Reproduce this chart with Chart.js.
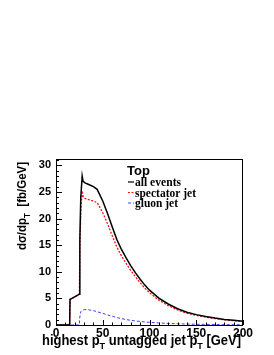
<!DOCTYPE html>
<html><head><meta charset="utf-8">
<script src="https://cdn.jsdelivr.net/npm/chart.js@4/dist/chart.umd.min.js"></script>
<style>html,body{margin:0;padding:0;background:#fff;}#wrap{width:274px;height:355px;}</style>
</head><body><div id="wrap"><canvas id="c" width="274" height="355"></canvas></div>
<script>
const ptBins = [0, 14.6, 15, 20, 25, 25.5, 26.5, 28, 29, 31, 35, 40, 44, 50, 55, 60, 65, 70, 75, 80, 85, 90, 95, 100, 110, 120, 130, 140, 150, 160, 170, 180, 190, 200];
const allEvents = [0, 0, 4.8, 5.3, 5.8, 16, 24, 28, 27, 26.7, 26.4, 26.0, 25.5, 23.3, 21.0, 18.5, 16.1, 14.2, 12.6, 11.1, 9.8, 8.6, 7.5, 6.55, 5.05, 3.95, 3.05, 2.4, 1.95, 1.6, 1.3, 1.05, 0.88, 0.72];
const spectatorJet = [0, 0, 4.8, 5.3, 5.8, 14.5, 21.5, 25.2, 24.15, 23.8, 23.55, 23.3, 23.0, 21.1, 19.1, 16.85, 14.7, 13.0, 11.58, 10.22, 9.04, 7.94, 6.92, 6.05, 4.67, 3.65, 2.82, 2.22, 1.81, 1.49, 1.21, 0.98, 0.82, 0.67];
const gluonJet = [0, 0, 0, 0, 0, 1.5, 2.5, 2.8, 2.85, 2.9, 2.85, 2.7, 2.5, 2.2, 1.9, 1.65, 1.4, 1.2, 1.02, 0.88, 0.76, 0.66, 0.58, 0.5, 0.38, 0.3, 0.23, 0.18, 0.14, 0.11, 0.09, 0.07, 0.06, 0.05];
const xTickValues = [0, 50, 100, 150, 200];
const yTickValues = [0, 5, 10, 15, 20, 25, 30];
const legendTitle = "Top";
const seriesNames = ["all events", "spectator jet", "gluon jet"];

const SANS = '"Liberation Sans", Arial, sans-serif';
const SERIF = '"Liberation Serif", "Times New Roman", serif';

function pts(ys){ return ptBins.map((x,i)=>({x:x, y:ys[i]})); }

function drawRich(ctx, segs, x, y, f, targetW){
  let w = 0;
  for(const [t,sub] of segs){ ctx.font = 'bold '+(sub?f*0.7:f)+'px '+SANS; w += ctx.measureText(t).width; }
  const sx = targetW ? targetW / w : 1;
  ctx.save();
  ctx.translate(x, y);
  ctx.scale(sx, 1);
  let cx = 0;
  for(const [t,sub] of segs){
    ctx.font = 'bold '+(sub?f*0.7:f)+'px '+SANS;
    ctx.fillText(t, cx, sub ? f*0.3 : 0);
    cx += ctx.measureText(t).width;
  }
  ctx.restore();
}

const decor = {
  id:'decor',
  afterDraw(chart){
    const ctx = chart.ctx, a = chart.chartArea;
    const xs = chart.scales.x, ys = chart.scales.y;
    ctx.save();
    ctx.strokeStyle = '#000'; ctx.lineWidth = 1;
    ctx.strokeRect(Math.round(a.left)+0.5, Math.round(a.top)+0.5, Math.round(a.right-a.left)-1, Math.round(a.bottom-a.top));
    ctx.beginPath();
    for(let v=0; v<=200; v+=10){
      const px = Math.round(xs.getPixelForValue(v))+0.5;
      const len = (v%50===0)?5:2.5;
      ctx.moveTo(px, a.bottom); ctx.lineTo(px, a.bottom-len);
    }
    for(let v=0; v<=31; v+=1){
      const py = Math.round(ys.getPixelForValue(v))+0.5;
      const len = (v%5===0)?6:3;
      ctx.moveTo(a.left, py); ctx.lineTo(a.left+len, py);
    }
    ctx.stroke();
    ctx.fillStyle = '#000';
    ctx.textBaseline = 'alphabetic';
    drawRich(ctx, [['highest p',false],['T',true],[' untagged jet p',false],['T',true],[' [GeV]',false]], 42, 345, 14, 199);
    ctx.save();
    ctx.translate(26, 250);
    ctx.rotate(-Math.PI/2);
    drawRich(ctx, [['d\u03C3/dp',false],['T',true],['  [fb/GeV]',false]], 0, 0, 13, 88);
    ctx.restore();
    ctx.font = 'bold 13px '+SANS;
    ctx.fillText(legendTitle, 127, 175);
    const ds = chart.data.datasets;
    const ly = [186, 196.5, 207];
    const lw = [46, 61, 43];
    for(let i=0;i<3;i++){
      ctx.save();
      ctx.strokeStyle = ds[i].borderColor; ctx.lineWidth = 1.2;
      ctx.setLineDash(ds[i].borderDash || []);
      ctx.beginPath(); ctx.moveTo(128, ly[i]-4); ctx.lineTo(134, ly[i]-4); ctx.stroke();
      ctx.restore();
      ctx.font = 'bold 12px '+SERIF;
      const w = ctx.measureText(seriesNames[i]).width;
      ctx.save();
      ctx.translate(135, ly[i]);
      ctx.scale(lw[i]/w, 1);
      ctx.fillText(seriesNames[i], 0, 0);
      ctx.restore();
    }
    ctx.restore();
  }
};

new Chart(document.getElementById('c'), {
  type:'line',
  data:{ datasets:[
    {label:seriesNames[0], data:pts(allEvents), borderColor:'#000000', borderWidth:1.5, pointRadius:0, tension:0, fill:false},
    {label:seriesNames[1], data:pts(spectatorJet), borderColor:'#ff1010', borderWidth:1.3, borderDash:[2,1.5], pointRadius:0, tension:0, fill:false},
    {label:seriesNames[2], data:pts(gluonJet), borderColor:'#4040ff', borderWidth:1, borderDash:[3,2], pointRadius:0, tension:0, fill:false}
  ]},
  options:{
    responsive:false, animation:false, devicePixelRatio:1,
    layout:{padding:{top:159, right:31, left:0, bottom:0}},
    plugins:{legend:{display:false}, tooltip:{enabled:false}},
    scales:{
      x:{type:'linear', min:0, max:200,
        afterBuildTicks(s){ s.ticks = xTickValues.map(v=>({value:v})); },
        afterFit(s){ s.height = 30; },
        ticks:{font:{family:SANS, size:12, weight:'bold'}, color:'#000', padding:1, maxRotation:0, autoSkip:false},
        grid:{display:false, drawTicks:false}, border:{display:false}},
      y:{type:'linear', min:0, max:31.2,
        afterBuildTicks(s){ s.ticks = yTickValues.map(v=>({value:v})); },
        afterFit(s){ s.width = 56; },
        ticks:{font:{family:SANS, size:11, weight:'bold'}, color:'#000', padding:5, autoSkip:false},
        grid:{display:false, drawTicks:false}, border:{display:false}}
    }
  },
  plugins:[decor]
});
</script></body></html>
